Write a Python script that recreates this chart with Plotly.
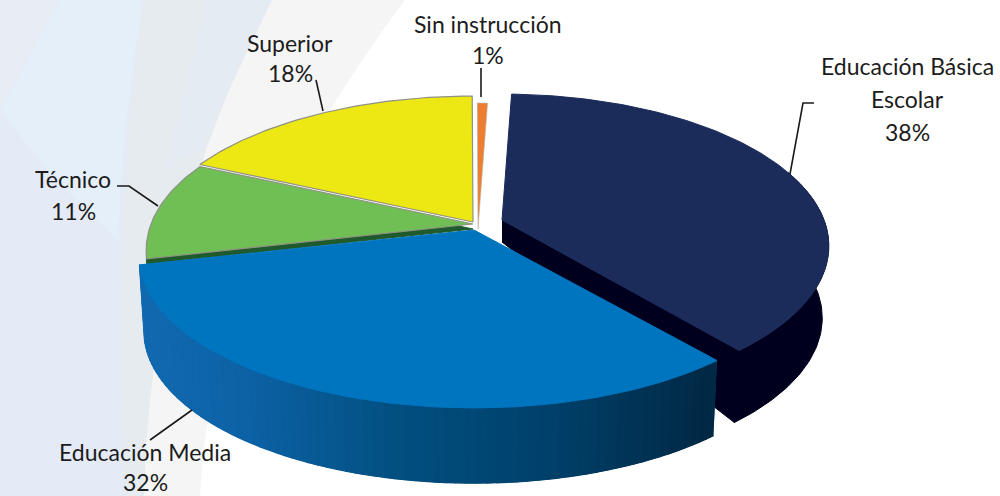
import numpy as np
import plotly.graph_objects as go

# ---- data ----
categories = ["Educación Básica Escolar", "Educación Media", "Técnico", "Superior", "Sin instrucción"]
shares = [38.4, 32.4, 10.5, 18.1, 0.6]
share_labels = ["38%", "32%", "11%", "18%", "1%"]
label_lines = [["Educación Básica", "Escolar"], ["Educación Media"], ["Técnico"], ["Superior"], ["Sin instrucción"]]
top_colors = ["#1b2b5a", "#0075bf", "#70bf54", "#ede713", "#ed7d31"]

# ---- styling and layout ----
start_deg = 2.0
apexes = [(502, 220), (474, 230), (473, 224), (473, 222), (478, 229)]
rx_by_slice = [322.0, 330.0, 322.0, 322.0, 322.0]
ry, persp = 147.5, 0.171
depth = 72
label_pos = [(907, [66, 99, 132]), (145, [452, 482]), (73, [179, 211]), (290, [43, 73]), (488, [24, 55])]
leaders = [
    ([814, 803, 790], [103, 103, 174]),
    ([150, 192], [440, 410]),
    ([117, 129, 158], [186, 186, 206]),
    ([316, 323], [80, 111]),
    ([481, 481], [68, 97]),
]
wall_stops = [(140, (18, 106, 176)), (250, (13, 98, 165)), (400, (2, 79, 128)), (550, (0, 65, 107)), (715, (2, 40, 68))]


def rim(ang_deg, rx):
    a = np.radians(ang_deg)
    u, v = np.sin(a), np.cos(a)
    s = 1 / (1 + persp * v)
    return rx * u * s, -ry * v * s


def arc_range(a0, a1, step=1.0):
    n = max(2, int(abs(a1 - a0) / step) + 1)
    return np.linspace(a0, a1, n)


def poly(x, y, fill, line=None, width=1.0):
    return go.Scatter(x=list(x), y=list(y), mode="lines", fill="toself", fillcolor=fill,
                      line=dict(color=line or fill, width=width), hoverinfo="skip", showlegend=False)


def wedge(i, a0, a1, dy=0):
    ax, ay = apexes[i]
    dx_, dy_ = rim(arc_range(a0, a1), rx_by_slice[i])
    return np.r_[ax, ax + dx_, ax], np.r_[ay, ay + dy_, ay] + dy


def wall_color(x):
    xs = [p[0] for p in wall_stops]
    c = [int(np.interp(x, xs, [p[1][k] for p in wall_stops])) for k in range(3)]
    return "rgb(%d,%d,%d)" % tuple(c)


edges = start_deg + np.r_[0, np.cumsum(shares)] * 3.6
traces = []

# navy wall and cut face
ax, ay = apexes[0]
a0, a1 = edges[0], edges[1]
rx0 = rx_by_slice[0]
cx, cy = rim(a1, rx0)
wall_dark = "#00001e"
traces.append(poly([ax, ax + cx, ax + cx * 0.98, ax], [ay, ay + cy, ay + cy + depth, ay + depth - 50], wall_dark))
ang = arc_range(70, a1)
ox, oy = rim(ang, rx0)
traces.append(poly(np.r_[ax + ox, (ax + ox * 0.98)[::-1]], np.r_[ay + oy, (ay + oy + depth)[::-1]], wall_dark))
x, y = wedge(0, a0, a1)
traces.append(poly(x, y, top_colors[0]))

# green side, then green and yellow faces
x, y = wedge(2, edges[2], edges[3], dy=5)
traces.append(poly(x, y, "#1f5a2c"))
for i in (2, 3):
    x, y = wedge(i, edges[i], edges[i + 1])
    traces.append(poly(x, y, top_colors[i], line="#8e9184", width=1.2))

# blue wall: solid base, then shaded strips
ax, ay = apexes[1]
rx1 = rx_by_slice[1]
ang = arc_range(edges[1], edges[2], step=1.5)
bx, by = rim(ang, rx1)
traces.append(poly(np.r_[ax + bx, (ax + bx * 0.985)[::-1]], np.r_[ay + by, (ay + by + depth + 3)[::-1]], "#034a7c"))
for p, q in zip(ang[:-1], ang[1:]):
    px_, py_ = rim(np.array([p, q]), rx1)
    xa = ax + px_
    ya = ay + py_
    traces.append(poly([xa[0], xa[1], ax + px_[1] * 0.985, ax + px_[0] * 0.985],
                       [ya[0], ya[1], ya[1] + depth + 3, ya[0] + depth + 3], wall_color(xa.mean()), width=1.6))
x, y = wedge(1, edges[1], edges[2])
traces.append(poly(x, y, top_colors[1]))

# orange sliver
x, y = wedge(4, edges[4], edges[5])
traces.append(poly(x, y, top_colors[4], line="#b9b9b0", width=0.6))

# leader lines
for lx, ly in leaders:
    traces.append(go.Scatter(x=lx, y=ly, mode="lines", line=dict(color="#1a1a1a", width=1.6),
                             hoverinfo="skip", showlegend=False))

fig = go.Figure(traces)

annotations = []
for lines, share, (px, ys) in zip(label_lines, share_labels, label_pos):
    for text, py in zip(lines + [share], ys):
        annotations.append(dict(x=px, y=py, text=text, showarrow=False, xanchor="center", yanchor="middle",
                                font=dict(family="Lato", size=23, color="#1c1c1c")))

bands = [
    ("M0,0 L1000,0 L1000,496 L0,496 Z", "#ffffff"),
    ("M0,0 L405,0 Q210,260 200,496 L0,496 Z", "#f5f5f5"),
    ("M0,0 L272,0 Q150,230 144,496 L0,496 Z", "#e6ebf0"),
    ("M0,0 L143,0 Q110,250 125,496 L0,496 Z", "#e4ebf6"),
    ("M0,0 L60,0 L0,110 Z", "#e8ecf5"),
    ("M60,0 L143,0 Q122,130 118,240 Q60,190 0,110 Z", "#e5eff9"),
    ("M272,0 L207,0 Q190,70 165,170 L200,150 Z", "#e5ebf3"),
]
shapes = [dict(type="path", path=p, fillcolor=c, line=dict(width=0), layer="below", xref="x", yref="y")
          for p, c in bands]

fig.update_layout(
    width=1000, height=496, margin=dict(l=0, r=0, t=0, b=0),
    paper_bgcolor="#ffffff", plot_bgcolor="#ffffff", showlegend=False,
    xaxis=dict(range=[0, 1000], visible=False, fixedrange=True),
    yaxis=dict(range=[496, 0], visible=False, fixedrange=True),
    shapes=shapes, annotations=annotations,
)
fig.write_html("out.html", config={"displayModeBar": False},
               post_script="document.body.style.margin='0';")
